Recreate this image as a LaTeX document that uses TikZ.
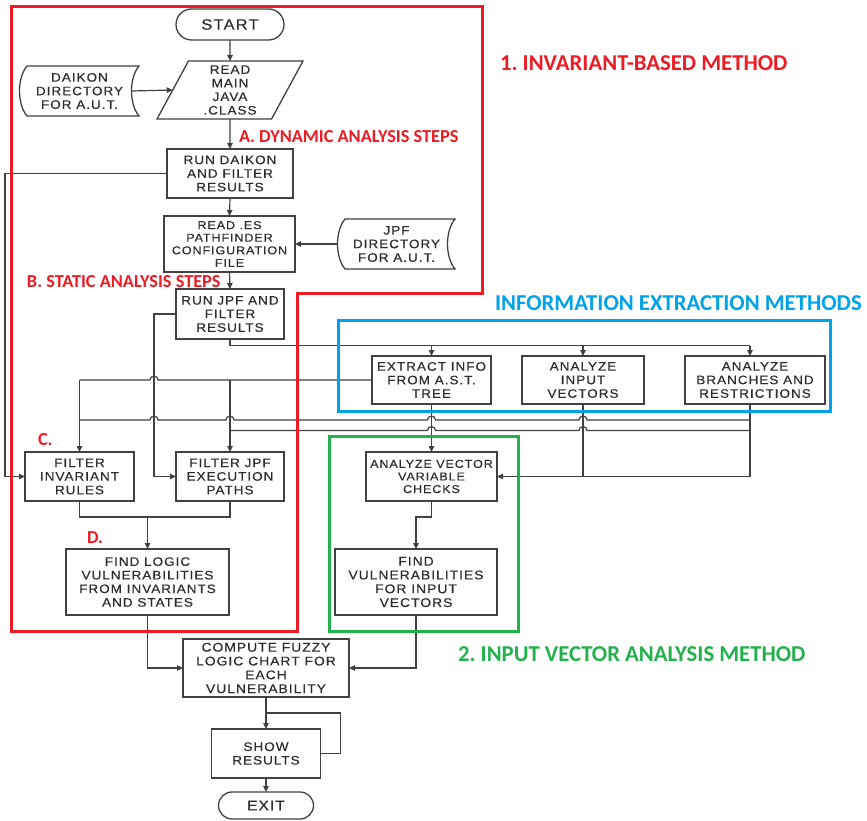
\documentclass[tikz,border=0pt]{standalone}
\usepackage{fontspec}
\setmainfont{Liberation Sans}
\newfontfamily\boxfont[FakeStretch=1.1,LetterSpace=8.0,FakeBold=0.4]{Liberation Sans}
\newfontfamily\lblfont{Carlito}
\usetikzlibrary{shapes.geometric,shapes.misc,arrows.meta,calc}
\definecolor{fred}{RGB}{237,28,36}
\definecolor{fblue}{RGB}{0,162,232}
\definecolor{fgreen}{RGB}{34,177,76}
\definecolor{lgray}{RGB}{65,65,65}
\definecolor{tgray}{RGB}{45,45,45}
\newcommand\stdata[1]{\draw[shapeline] ([xshift=7pt]#1.north west) -- (#1.north east) .. controls +(-10,12) and +(-10,-12) .. (#1.south east) -- ([xshift=7pt]#1.south west) .. controls +(-10,-12) and +(-10,12) .. ([xshift=7pt]#1.north west) -- cycle;}
\begin{document}
\frenchspacing
\begin{tikzpicture}[x=1pt,y=-1pt,
 every node/.style={inner sep=0pt, outer sep=0pt},
 base/.style={align=center, text=tgray, font=\boxfont\fontsize{12.3}{13.6}\selectfont},
 box/.style={base, draw=lgray, line width=1.3pt, rectangle},
 sz/.style 2 args={minimum width=#1pt, minimum height=#2pt},
 term/.style={base, draw=lgray, line width=1.3pt, rounded rectangle},
 iobox/.style={base, draw=lgray, line width=1.3pt, trapezium, trapezium left angle=57.5, trapezium right angle=122.5, trapezium stretches body},
 stored/.style={base},
 small/.style={font=\boxfont\fontsize{11.4}{12.6}\selectfont},
 big/.style={font=\boxfont\fontsize{12.6}{13.8}\selectfont},
 shapeline/.style={draw=lgray, line width=1.3pt},
 conn/.style={draw=lgray, line width=1.2pt},
 arr/.style={conn, -{Triangle[length=6pt,width=5.5pt]}},
 frame/.style={line width=3pt},
 lbl/.style={font=\lblfont\bfseries\frenchspacing\fontsize{#1}{#1}\selectfont, anchor=west},
 hop/.style 2 args={insert path={-- ($(#1 |- #2)+(4,0)$) arc[start angle=0,end angle=180,radius=4pt]}},
]
\useasboundingbox (0,0) rectangle (867,821);

% nodes
\node[term, sz={108}{31}, font=\boxfont\fontsize{15}{17}\selectfont] (start) at (230,24.5) {START};
\node[iobox, sz={146}{58}] (rmj) at (230,90) {READ\\MAIN\\JAVA\\.CLASS};
\node[stored, sz={119}{50}] (daikon) at (79.5,91) {DAIKON\\DIRECTORY\\FOR A.U.T.};
\node[box, sz={126}{49}] (rundaikon) at (230,173.5) {RUN DAIKON\\AND FILTER\\RESULTS};
\node[box, sz={131}{56}, small] (reades) at (229.5,244) {READ .ES\\PATHFINDER\\CONFIGURATION\\FILE};
\node[stored, sz={117}{50}] (jpfdir) at (396.5,244) {JPF\\DIRECTORY\\FOR A.U.T.};
\node[box, sz={108}{50}] (runjpf) at (230,314) {RUN JPF AND\\FILTER\\RESULTS};
\node[box, sz={119}{48}] (ext) at (431.5,380) {EXTRACT INFO\\FROM A.S.T.\\TREE};
\node[box, sz={122}{48}] (aiv) at (583,380) {ANALYZE\\INPUT\\VECTORS};
\node[box, sz={140}{48}] (abr) at (755,380) {ANALYZE\\BRANCHES AND\\RESTRICTIONS};
\node[box, sz={109}{49}] (fir) at (79.5,476.5) {FILTER\\INVARIANT\\RULES};
\node[box, sz={108}{49}] (fjp) at (230,476.5) {FILTER JPF\\EXECUTION\\PATHS};
\node[box, sz={131}{49}, small] (avc) at (431.5,476.5) {ANALYZE VECTOR\\VARIABLE\\CHECKS};
\node[box, sz={163}{66}] (fl) at (147.5,582) {FIND LOGIC\\VULNERABILITIES\\FROM INVARIANTS\\AND STATES};
\node[box, sz={162}{66}, big] (fvi) at (416,582) {FIND\\VULNERABILITIES\\FOR INPUT\\VECTORS};
\node[box, sz={166}{58}, big] (cf) at (266,668) {COMPUTE FUZZY\\LOGIC CHART FOR\\EACH\\VULNERABILITY};
\node[box, sz={109}{49}] (sr) at (266,753.5) {SHOW\\RESULTS};
\node[term, sz={95}{27}, font=\boxfont\fontsize{14}{16}\selectfont] (exit) at (266,805.5) {EXIT};
\stdata{daikon}
\stdata{jpfdir}

% helper coordinates
\coordinate (laneA) at (5,0);
\coordinate (laneB) at (154,0);
\coordinate (bus1) at (0,345.5);
\coordinate (lvl2) at (0,420);
\coordinate (lvl3) at (0,430.5);
\coordinate (abrS) at ([xshift=-5pt]abr.south);
\coordinate (abrN) at ([xshift=-5pt]abr.north);
\coordinate (mergeL) at ($(fir.south)+(0,16)$);
\coordinate (loopY) at ($(cf.south)!0.5!(sr.north)$);

% connectors
\draw[arr] (start.south) -- (rmj.north);
\draw[arr] ([xshift=-7.5pt]daikon.east) -- (rmj.left side);
\draw[arr] (rmj.south) -- (rundaikon.north);
\draw[arr] (rundaikon.south) -- (reades.north);
\draw[arr] (jpfdir.west) -- (reades.east);
\draw[arr] (reades.south) -- (runjpf.north);
\draw[arr] (rundaikon.west) -| (laneA |- fir.west) -- (fir.west);
\draw[arr] (runjpf.west) -| (laneB |- fjp.west) -- (fjp.west);
\draw[conn] (runjpf.south) |- (abrN |- bus1);
\draw[arr] (abrN |- bus1) -- (abrN);
\draw[arr] (ext.north |- bus1) -- (ext.north);
\draw[arr] (aiv.north |- bus1) -- (aiv.north);
\draw[conn] (ext.west) [hop={laneB}{ext.west}] -- (fir.north |- ext.west);
\draw[arr] (fir.north |- ext.west) -- (fir.north);
\draw[arr] (fjp.north |- ext.west) -- (fjp.north);
\draw[conn] (abrS |- lvl2) [hop={aiv.south}{lvl2}] [hop={ext.south}{lvl2}] [hop={fjp.north}{lvl2}] [hop={laneB}{lvl2}] -- (fir.north |- lvl2);
\draw[conn] (abrS |- lvl3) [hop={aiv.south}{lvl3}] [hop={ext.south}{lvl3}] -- (fjp.north |- lvl3);
\draw[arr] (abrS) |- (avc.east);
\draw[conn] (aiv.south) -- (aiv.south |- avc.east);
\draw[arr] (ext.south) -- (avc.north);
\draw[arr] (avc.south) -- ++(0,16) -| (fvi.north);
\draw[arr] (fvi.south) |- (cf.east);
\draw[arr] (fl.south) |- (cf.west);
\draw[conn] (fir.south) -- (mergeL) -| (fjp.south);
\draw[arr] (fl.north |- mergeL) -- (fl.north);
\draw[arr] (cf.south) -- (sr.north);
\draw[conn] (sr.east) -- ++(20,0) |- (loopY);
\draw[arr] (sr.south) -- (exit.north);

% frames
\draw[fred, frame] (11,7) -- (482,7) -- (482,293.5) -- (297,293.5) -- (297,631) -- (11,631) -- cycle;
\draw[fblue, frame] (338,320) rectangle (830,411.5);
\draw[fgreen, frame] (329,436) rectangle (518,631);

% labels
\node[lbl=22.7, text=fred] (t1) at (500,63) {1. INVARIANT-BASED METHOD};
\node[lbl=18.3, text=fred] (tA) at (239,137) {A. DYNAMIC ANALYSIS STEPS};
\node[lbl=18.3, text=fred] (tB) at (27,282) {B. STATIC ANALYSIS STEPS};
\node[lbl=22.7, text=fblue] (tI) at (495,303) {INFORMATION EXTRACTION METHODS};
\node[lbl=22.7, text=fgreen] (t2) at (458,654) {2. INPUT VECTOR ANALYSIS METHOD};
\node[lbl=18.3, text=fred] (tC) at (38,440) {C.};
\node[lbl=18.3, text=fred] (tD) at (87,538) {D.};
\end{tikzpicture}
\end{document}
